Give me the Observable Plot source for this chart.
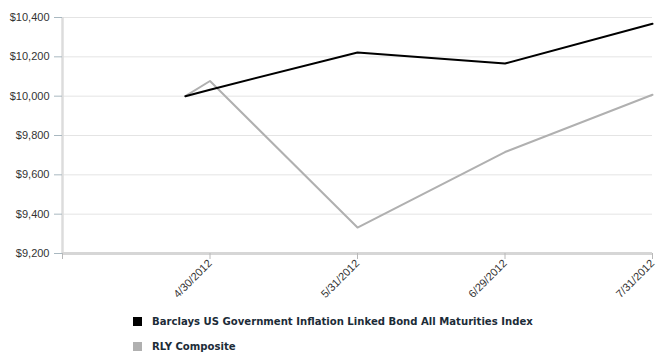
<!DOCTYPE html>
<html><head><meta charset="utf-8">
<script src="https://cdn.jsdelivr.net/npm/d3@7"></script>
<script src="https://cdn.jsdelivr.net/npm/@observablehq/plot@0.6"></script>
<style>
body{margin:0;background:#fff;}
#wrap{position:relative;width:664px;height:356px;overflow:hidden;}
.leg{position:absolute;left:133px;font:bold 10.1px "DejaVu Sans";color:#1c2c38;display:flex;align-items:center;white-space:nowrap;}
.sw{width:9px;height:9px;margin-right:10px;flex:none;}
</style></head><body><div id="wrap"><div id="chart"></div></div>
<script>
const dates = ["2012-04-25","2012-04-30","2012-05-31","2012-06-29","2012-07-31"];
const barclays = [10000,10033,10222,10166,10368];
const rly = [10000,10077,9332,9716,10007];
const seriesNames = ["Barclays US Government Inflation Linked Bond All Maturities Index","RLY Composite"];
const seriesColors = ["#000000","#b0b0b0"];
const tickDates = ["2012-04-30","2012-05-31","2012-06-29","2012-07-31"];
const yTicks = [9200,9400,9600,9800,10000,10200,10400];
const xStart = "2012-03-31";

const W = 664, H = 300, ML = 62, MR = 12, MT = 17, MB = 47;
const data = [];
[rly, barclays].forEach((vals, k) => {
  const name = k === 0 ? seriesNames[1] : seriesNames[0];
  dates.forEach((d, i) => data.push({date: new Date(d), value: vals[i], series: name}));
});
const fmt = d => `${d.getUTCMonth()+1}/${d.getUTCDate()}/${d.getUTCFullYear()}`;
const x0 = new Date(xStart);
// month-end periods are evenly spaced (piecewise time scale)
const xDom = [x0, ...tickDates.map(d => new Date(d))];
const xRange = xDom.map((_, i) => ML + i * (W - ML - MR) / (xDom.length - 1));

const plot = Plot.plot({
  width: W, height: H,
  marginLeft: ML, marginRight: MR, marginTop: MT, marginBottom: MB,
  style: {fontFamily: "'Liberation Sans', Arial, sans-serif", fontSize: "11px", color: "#333", background: "#fff"},
  x: {type: "utc", domain: xDom, range: xRange, label: null},
  y: {domain: [yTicks[0], yTicks[yTicks.length-1]], label: null},
  color: {domain: seriesNames, range: seriesColors},
  marks: [
    Plot.gridY(yTicks, {stroke: "#e4e4e4", strokeOpacity: 1}),
    Plot.ruleX([x0], {stroke: "#dcdcdc", strokeWidth: 2.5}),
    Plot.ruleY([yTicks[0]], {stroke: "#d6d6d6", strokeWidth: 3}),
    Plot.axisY(yTicks, {label: null, tickSize: 8, tickPadding: 5, tickFormat: d => "$" + d3.format(",")(d), stroke: "#a9b8c0", fill: "#333", fontSize: 11}),
    Plot.axisX(xDom, {label: null, tickSize: 6, tickPadding: 2, tickRotate: -45, tickFormat: d => +d === +x0 ? "" : fmt(d), stroke: "#b8b8b8", fill: "#333", fontSize: 11}),
    Plot.line(data, {x: "date", y: "value", stroke: "series", z: "series", strokeWidth: 2})
  ]
});
document.getElementById("chart").appendChild(plot);

const wrap = document.getElementById("wrap");
seriesNames.forEach((name, i) => {
  const div = document.createElement("div");
  div.className = "leg";
  div.style.top = (316 + i * 25) + "px";
  const sw = document.createElement("span");
  sw.className = "sw";
  sw.style.background = seriesColors[i];
  const t = document.createElement("span");
  t.textContent = name;
  div.appendChild(sw); div.appendChild(t);
  wrap.appendChild(div);
});
</script>
</body></html>
